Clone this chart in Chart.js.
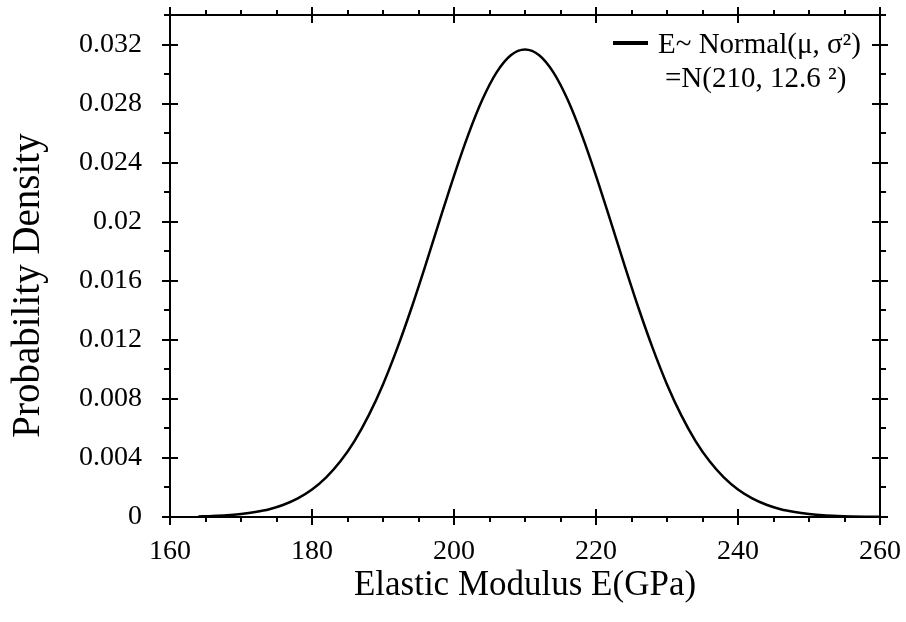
<!DOCTYPE html>
<html>
<head>
<meta charset="utf-8">
<script src="https://cdn.jsdelivr.net/npm/chart.js@4"></script>
<style>
html,body{margin:0;padding:0;background:#fff;}
#wrap{width:906px;height:622px;position:relative;}
</style>
</head>
<body>
<div id="wrap"><canvas id="c" width="906" height="622"></canvas></div>
<script>
// Elastic modulus E (GPa) sample positions
const modulusE = [164,166,168,170,172,174,176,178,180,182,184,186,188,190,192,194,196,198,200,202,204,206,208,210,
  212,214,216,218,220,222,224,226,228,230,232,234,236,238,240,242,244,246,248,250,252,254,256,258,260];
// Probability density
const density = [0.00004,0.00007,0.00012,0.00021,0.00034,0.00053,0.00083,0.00126,0.00186,0.00268,0.00377,0.00516,0.00690,0.00898,0.01142,0.01414,0.01708,0.02012,0.02311,0.02588,0.02827,0.03011,0.03127,0.03166,
  0.03127,0.03011,0.02827,0.02588,0.02311,0.02012,0.01708,0.01414,0.01142,0.00898,0.00690,0.00516,0.00377,0.00268,0.00186,0.00126,0.00083,0.00053,0.00034,0.00021,0.00012,0.00007,0.00004,0.00002,0.00001];
const xTicks = [160,180,200,220,240,260];
const xTickLabels = ['160','180','200','220','240','260'];
const yTicks = [0,0.004,0.008,0.012,0.016,0.02,0.024,0.028,0.032];
const yTickLabels = ['0','0.004','0.008','0.012','0.016','0.02','0.024','0.028','0.032'];
const xMinorStep = 5;
const yMinorStep = 0.002;
const legendLines = ['E~ Normal(μ, σ²)', '=N(210, 12.6 ²)'];
const seriesName = 'E~ Normal(μ, σ²) =N(210, 12.6 ²)';

const SERIF = '"Liberation Serif", "DejaVu Serif", serif';

function zeroPad(s) { s.paddingLeft = 0; s.paddingRight = 0; s.paddingTop = 0; s.paddingBottom = 0; }

const frame = {
  id: 'frame',
  afterDraw(chart) {
    const ctx = chart.ctx, a = chart.chartArea;
    const xs = chart.scales.x, ys = chart.scales.y;
    ctx.save();
    ctx.strokeStyle = '#000';
    ctx.lineWidth = 2;
    ctx.beginPath();
    ctx.rect(a.left, a.top, a.right - a.left, a.bottom - a.top);
    ctx.stroke();
    ctx.beginPath();
    // x ticks
    for (let v = xs.min; v <= xs.max + 1e-9; v += xMinorStep) {
      const px = Math.round(xs.getPixelForValue(v));
      const major = xTicks.some(t => Math.abs(t - v) < 1e-9);
      if (major) {
        ctx.moveTo(px, a.bottom - 8); ctx.lineTo(px, a.bottom + 8);
        ctx.moveTo(px, a.top - 8); ctx.lineTo(px, a.top + 8);
      } else {
        ctx.moveTo(px, a.bottom); ctx.lineTo(px, a.bottom + 5);
        ctx.moveTo(px, a.top); ctx.lineTo(px, a.top - 5);
      }
    }
    // y ticks
    for (let i = 0; ; i++) {
      const v = i * yMinorStep;
      if (v > ys.max + 1e-9) break;
      const py = Math.round(ys.getPixelForValue(v));
      const major = yTicks.some(t => Math.abs(t - v) < 1e-9);
      if (major) {
        ctx.moveTo(a.left - 8, py); ctx.lineTo(a.left + 8, py);
        ctx.moveTo(a.right - 8, py); ctx.lineTo(a.right + 8, py);
      } else {
        ctx.moveTo(a.left, py); ctx.lineTo(a.left - 6, py);
        ctx.moveTo(a.right, py); ctx.lineTo(a.right + 6, py);
      }
    }
    ctx.stroke();
    // legend
    ctx.lineWidth = 4;
    ctx.beginPath();
    ctx.moveTo(613, 43); ctx.lineTo(648, 43);
    ctx.stroke();
    ctx.fillStyle = '#000';
    ctx.font = '29px ' + SERIF;
    ctx.textBaseline = 'middle';
    ctx.textAlign = 'left';
    ctx.fillText(legendLines[0], 658, 45);
    ctx.fillText(legendLines[1], 665, 79);
    ctx.restore();
  }
};

new Chart(document.getElementById('c'), {
  type: 'line',
  data: {
    datasets: [{
      label: seriesName,
      data: modulusE.map((x, i) => ({x: x, y: density[i]})),
      borderColor: '#000',
      borderWidth: 2.5,
      pointRadius: 0,
      fill: false,
      cubicInterpolationMode: 'monotone'
    }]
  },
  options: {
    responsive: false,
    animation: false,
    layout: { padding: { top: 15, right: 26, left: 0, bottom: 0 } },
    plugins: { legend: { display: false }, tooltip: { enabled: false } },
    scales: {
      x: {
        type: 'linear', min: 160, max: 260,
        afterBuildTicks: s => { s.ticks = xTicks.map(v => ({value: v})); },
        afterFit: s => { s.height = 105; zeroPad(s); },
        grid: { display: false, drawTicks: false },
        border: { display: false },
        ticks: {
          color: '#000', padding: 18, maxRotation: 0, autoSkip: false,
          font: { family: SERIF, size: 28 },
          callback: (v) => { const i = xTicks.indexOf(v); return i >= 0 ? xTickLabels[i] : ''; }
        },
        title: { display: true, text: 'Elastic Modulus E(GPa)', color: '#000',
          font: { family: SERIF, size: 35 }, padding: { top: 0, bottom: 15 } }
      },
      y: {
        type: 'linear', min: 0, max: 0.034,
        afterBuildTicks: s => { s.ticks = yTicks.map(v => ({value: v})); },
        afterFit: s => { s.width = 170; zeroPad(s); },
        grid: { display: false, drawTicks: false },
        border: { display: false },
        ticks: {
          color: '#000', padding: 28, autoSkip: false,
          font: { family: SERIF, size: 28 },
          callback: (v) => { const i = yTicks.findIndex(t => Math.abs(t - v) < 1e-12); return i >= 0 ? yTickLabels[i] : ''; }
        },
        title: { display: true, text: 'Probability Density\u2002\u2002', color: '#000',
          font: { family: SERIF, size: 39 }, padding: { top: 5, bottom: 0 } }
      }
    }
  },
  plugins: [frame]
});
</script>
</body>
</html>
